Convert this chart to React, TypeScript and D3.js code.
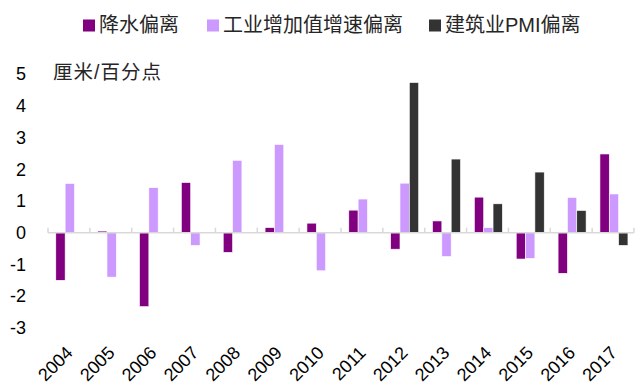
import React from "react";
import * as d3 from "d3";

const categories = ["2004","2005","2006","2007","2008","2009","2010","2011","2012","2013","2014","2015","2016","2017"];
const rainfall = [-1.5, 0.05, -2.33, 1.58, -0.62, 0.16, 0.3, 0.71, -0.52, 0.37, 1.12, -0.83, -1.28, 2.48];
const industry = [1.55, -1.4, 1.42, -0.4, 2.28, 2.78, -1.2, 1.06, 1.56, -0.75, 0.16, -0.81, 1.11, 1.22];
const pmi: (number | null)[] = [null, null, null, null, null, null, null, null, 4.73, 2.32, 0.91, 1.91, 0.7, -0.4];
const seriesNames = ["降水偏离", "工业增加值增速偏离", "建筑业PMI偏离"];
const seriesColors = ["#800080", "#CC99FF", "#333333"];
const yTicks = [-3, -2, -1, 0, 1, 2, 3, 4, 5];
const unitLabel = "厘米/百分点";

const W = 635, H = 385;
const FONT = "'Liberation Sans', Arial, 'Noto Sans CJK SC', sans-serif";

export default function App() {
  const x = d3.scaleBand<string>().domain(categories).range([48, 634]).padding(0);
  const inner = d3.scaleBand<number>().domain([0, 1, 2]).range([7.8, 35.8]).padding(0);
  const y = d3.scaleLinear().domain([-3, 5]).range([327.9, 74]);
  const all = [rainfall, industry, pmi];
  const legendX = [83, 207, 429];

  return (
    <svg width={W} height={H} style={{ position: "absolute", left: 0, top: 0, fontFamily: FONT }}>
      <rect width={W} height={H} fill="#fff" />
      {/* legend */}
      {seriesNames.map((n, i) => (
        <g key={n}>
          <rect x={legendX[i]} y={19.5} width={12} height={12} fill={seriesColors[i]} />
          <text x={legendX[i] + 16} y={32} fontSize={20} fill="#262626">{n}</text>
        </g>
      ))}
      {/* unit */}
      <text x={53} y={79} fontSize={19.5} fill="#262626" letterSpacing={1}>{unitLabel}</text>
      {/* y ticks */}
      {yTicks.map((t) => (
        <text key={t} x={26} y={y(t)} dy="0.35em" textAnchor="end" fontSize={18} fill="#000">{t}</text>
      ))}
      {/* bars */}
      {all.map((arr, si) =>
        arr.map((v, ci) => {
          if (v === null || v === undefined) return null;
          const x0 = (x(categories[ci]) as number) + (inner(si) as number);
          const y0 = y(Math.max(0, v));
          const h = Math.abs(y(v) - y(0));
          return (
            <rect key={si + "-" + ci} x={x0} y={y0} width={inner.bandwidth()} height={Math.max(h, 0.5)}
              fill={seriesColors[si]} stroke="#fff" strokeWidth={0.6} />
          );
        })
      )}
      {/* axis */}
      <line x1={48} x2={634} y1={y(0)} y2={y(0)} stroke="#d9d9d9" strokeWidth={1.5} />
      {d3.range(categories.length + 1).map((i) => {
        const xx = i < categories.length ? (x(categories[i]) as number) : 634;
        return <line key={i} x1={xx} x2={xx} y1={y(0)} y2={y(0) - 5} stroke="#d9d9d9" strokeWidth={1.5} />;
      })}
      {/* x labels */}
      {categories.map((c) => {
        const cx = (x(c) as number) + x.bandwidth() / 2 + 5;
        const cy = 354;
        return (
          <text key={c} x={cx} y={cy} textAnchor="end" fontSize={18} fill="#000"
            transform={`rotate(-45, ${cx}, ${cy})`}>{c}</text>
        );
      })}
    </svg>
  );
}
